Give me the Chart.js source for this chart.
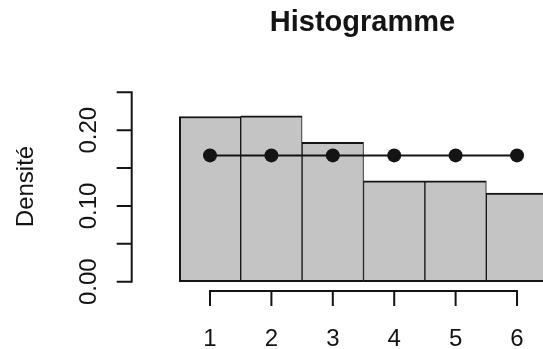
<!DOCTYPE html>
<html>
<head>
<meta charset="utf-8">
<script src="https://cdn.jsdelivr.net/npm/chart.js@4/dist/chart.umd.min.js"></script>
<style>
  html, body { margin: 0; padding: 0; background: #fff; overflow: hidden; }
  canvas { display: block; }
</style>
</head>
<body>
<canvas id="chart" width="543" height="349"></canvas>
<script>
// Faces of the die and the densities per class
const faces = [1, 2, 3, 4, 5, 6];
const observedDensity = [0.218, 0.219, 0.184, 0.133, 0.133, 0.117];
const uniformDensity = [0.1667, 0.1667, 0.1667, 0.1667, 0.1667, 0.1667];

// Axis ticks and their labels
const yTickValues = [0, 0.05, 0.10, 0.15, 0.20, 0.25];
const yTickLabels = ['0.00', '', '0.10', '', '0.20', ''];
const xTickLabels = ['1', '2', '3', '4', '5', '6'];

const titleText = 'Histogramme';
const yAxisTitle = 'Densité';

const FONT = '"Liberation Sans", Arial, Helvetica, sans-serif';
const INK = '#141414';

// R-style detached axes, title and axis label, placed with the chart scales
const baseAxes = {
  id: 'baseAxes',
  afterDraw(chart) {
    const { ctx, chartArea: a, scales: { x, y } } = chart;
    ctx.save();
    ctx.strokeStyle = INK;
    ctx.fillStyle = INK;
    ctx.lineWidth = 2;
    ctx.lineCap = 'square';

    // vertical axis
    const yTop = y.getPixelForValue(yTickValues[yTickValues.length - 1]);
    const yBot = y.getPixelForValue(yTickValues[0]);
    ctx.beginPath();
    ctx.moveTo(a.left, yTop);
    ctx.lineTo(a.left, yBot);
    yTickValues.forEach(v => {
      const py = y.getPixelForValue(v);
      ctx.moveTo(a.left, py);
      ctx.lineTo(a.left - 14, py);
    });
    ctx.stroke();

    ctx.font = '24px ' + FONT;
    ctx.textAlign = 'center';
    ctx.textBaseline = 'alphabetic';
    yTickValues.forEach((v, i) => {
      if (!yTickLabels[i]) return;
      ctx.save();
      ctx.translate(a.left - 36, y.getPixelForValue(v));
      ctx.rotate(-Math.PI / 2);
      ctx.fillText(yTickLabels[i], 0, 0);
      ctx.restore();
    });

    // horizontal axis
    const xl = x.getPixelForValue(faces[0]);
    const xr = x.getPixelForValue(faces[faces.length - 1]);
    ctx.beginPath();
    ctx.moveTo(xl, a.bottom);
    ctx.lineTo(xr, a.bottom);
    faces.forEach(f => {
      const px = x.getPixelForValue(f);
      ctx.moveTo(px, a.bottom);
      ctx.lineTo(px, a.bottom + 14);
    });
    ctx.stroke();
    faces.forEach((f, i) => {
      ctx.fillText(xTickLabels[i], x.getPixelForValue(f), a.bottom + 55);
    });

    // axis title
    ctx.save();
    ctx.translate(a.left - 99, 186.5);
    ctx.rotate(-Math.PI / 2);
    ctx.fillText(yAxisTitle, 0, 0);
    ctx.restore();

    // main title
    ctx.font = 'bold 29px ' + FONT;
    ctx.fillText(titleText, 362.5, 31);

    ctx.restore();
  }
};

new Chart(document.getElementById('chart'), {
  data: {
    datasets: [
      {
        type: 'line',
        order: 1,
        data: faces.map((f, i) => ({ x: f, y: uniformDensity[i] })),
        borderColor: INK,
        borderWidth: 2,
        pointRadius: 7,
        pointBackgroundColor: INK,
        pointBorderWidth: 0,
        tension: 0
      },
      {
        type: 'bar',
        order: 2,
        data: faces.map((f, i) => ({ x: f, y: observedDensity[i] })),
        backgroundColor: '#c4c4c4',
        borderColor: INK,
        borderWidth: ctx => ({ top: 2, bottom: 2, left: ctx.dataIndex === 0 ? 2 : 1, right: 1 }),
        borderSkipped: false,
        barPercentage: 1,
        categoryPercentage: 1
      }
    ]
  },
  options: {
    responsive: false,
    animation: false,
    devicePixelRatio: 1,
    layout: { autoPadding: false, padding: { left: 131.7, right: 0, top: 84.7, bottom: 58 } },
    plugins: { legend: { display: false }, tooltip: { enabled: false }, title: { display: false } },
    scales: {
      x: { type: 'linear', min: -0.275, max: 6.423, offset: false, display: false },
      y: { type: 'linear', min: -0.0123, max: 0.26, display: false }
    }
  },
  plugins: [baseAxes]
});
</script>
</body>
</html>
